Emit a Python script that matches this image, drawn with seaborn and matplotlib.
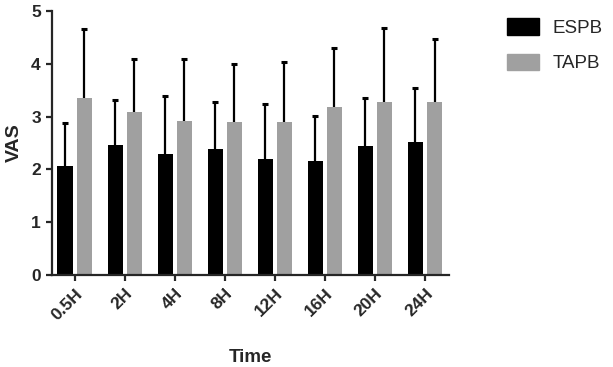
import pandas as pd
import seaborn as sns
import matplotlib.pyplot as plt

# values (mean and upper error bar end)
times = ['0.5H', '2H', '4H', '8H', '12H', '16H', '20H', '24H']
espb_mean = [2.06, 2.47, 2.29, 2.38, 2.19, 2.15, 2.45, 2.52]
espb_top = [2.87, 3.31, 3.39, 3.28, 3.23, 3.02, 3.35, 3.55]
tapb_mean = [3.35, 3.08, 2.92, 2.90, 2.90, 3.19, 3.28, 3.28]
tapb_top = [4.65, 4.10, 4.10, 4.00, 4.03, 4.29, 4.68, 4.47]

groups = ['ESPB', 'TAPB']
colors = ['#000000', '#a0a0a0']

df = pd.DataFrame({
    'Time': times * 2,
    'Group': ['ESPB'] * len(times) + ['TAPB'] * len(times),
    'VAS': espb_mean + tapb_mean,
})
sds = [[t - m for t, m in zip(espb_top, espb_mean)],
       [t - m for t, m in zip(tapb_top, tapb_mean)]]

sns.set_style('ticks')
plt.rcParams['font.family'] = ['Liberation Sans', 'DejaVu Sans']

fig = plt.figure(figsize=(6.13, 3.67), dpi=100)
ax = fig.add_axes([0.0848, 0.2507, 0.6477, 0.7193])

sns.barplot(data=df, x='Time', y='VAS', hue='Group', order=times, hue_order=groups,
            palette=colors, errorbar=None, width=0.76, gap=0.21, saturation=1,
            linewidth=0, ax=ax)

# one-sided (upper) error bars placed on the bar centres
for cont, sd in zip(ax.containers, sds):
    xs = [p.get_x() + p.get_width() / 2 for p in cont.patches]
    hs = [p.get_height() for p in cont.patches]
    eb = ax.errorbar(xs, hs, yerr=[[0] * len(sd), sd], fmt='none', ecolor='black',
                     elinewidth=1.6, capsize=2.5, capthick=2.2, zorder=1)
    eb[1][0].remove()  # drop the cap at the bar top

ax.set_ylim(0, 5)
ax.set_xlim(-0.45, 7.48)
ax.set_yticks([0, 1, 2, 3, 4, 5])
sns.despine(ax=ax)
for s in ['left', 'bottom']:
    ax.spines[s].set_linewidth(1.6)
ax.tick_params(axis='both', width=1.6, length=4.5, labelsize=12.5)
for lab in ax.get_yticklabels():
    lab.set_fontweight('bold')
for lab in ax.get_xticklabels():
    lab.set_fontweight('bold')
    lab.set_rotation(45)
    lab.set_ha('right')
    lab.set_rotation_mode('anchor')

ax.set_xlabel('Time', fontsize=13.5, fontweight='bold', labelpad=19)
ax.set_ylabel('VAS', fontsize=14, fontweight='bold', labelpad=6)

ax.get_legend().remove()
handles = [plt.Rectangle((0, 0), 1, 1, color=c) for c in colors]
fig.legend(handles, groups, loc='upper left', bbox_to_anchor=(0.827, 0.95),
           frameon=False, fontsize=13.5, handlelength=1.7, handleheight=0.95,
           handletextpad=0.75, labelspacing=0.9, borderpad=0, borderaxespad=0)

fig.savefig('out.png', dpi=100)
